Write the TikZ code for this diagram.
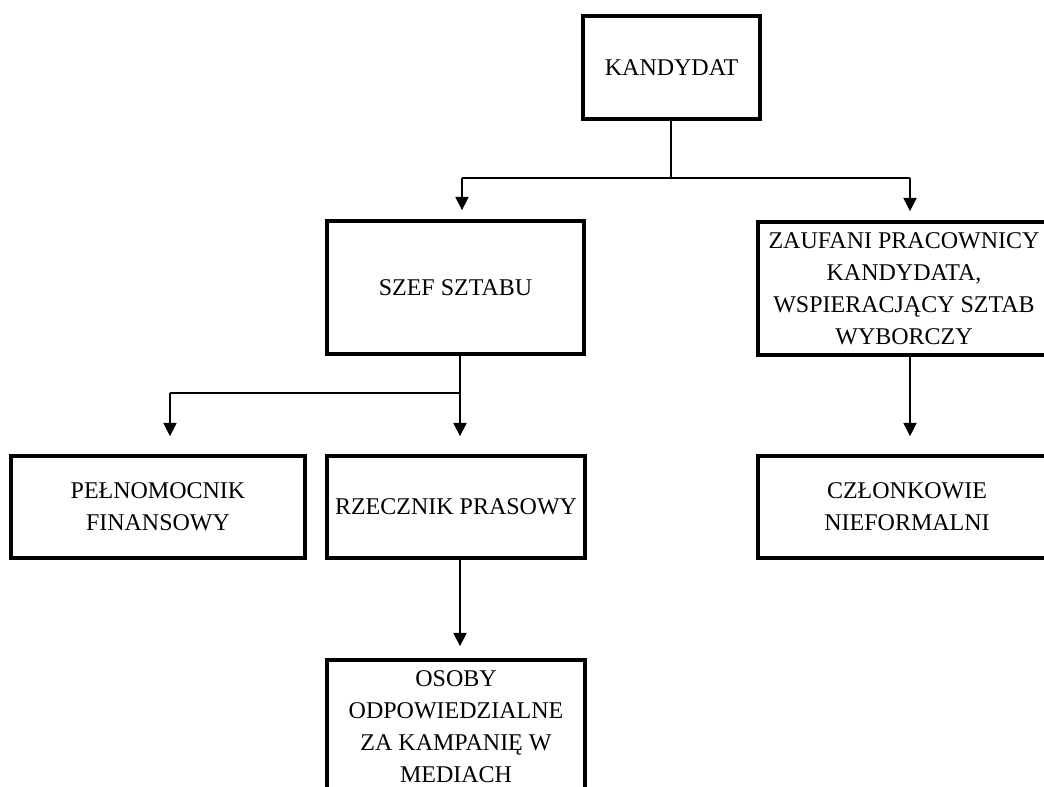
\documentclass[tikz,border=0pt]{standalone}
\usepackage{fontspec}
\setmainfont{Liberation Serif}
\usetikzlibrary{arrows.meta}
\begin{document}
\begin{tikzpicture}[x=0.75pt,y=-0.75pt,
  box/.style={draw, line width=2.8pt, rectangle, align=center, inner sep=0pt,
    font=\fontsize{18}{24}\selectfont},
  conn/.style={line width=0.9pt},
  arr/.style={conn, -{Triangle[width=10pt,length=10pt]}}]
\useasboundingbox (0,0) rectangle (1044,787);
\clip (0,0) rectangle (1044,787);
\fill[white] (0,0) rectangle (1044,787);

\node[box, minimum width=132.75pt, minimum height=77.25pt] (kand) at (671.5,67.5) {KANDYDAT};
\node[box, minimum width=192.75pt, minimum height=99.75pt] (szef) at (455.5,287.5) {SZEF SZTABU};
\node[box, minimum width=219pt, minimum height=99.75pt] (zauf) at (904,288.5)
  {ZAUFANI PRACOWNICY\\KANDYDATA,\\WSPIERACJĄCY SZTAB\\WYBORCZY};
\node[box, minimum width=220.5pt, minimum height=76.5pt] (pel) at (158,507) {PEŁNOMOCNIK\\FINANSOWY};
\node[box, minimum width=193.5pt, minimum height=76.5pt] (rzecz) at (456,507) {RZECZNIK PRASOWY};
\node[box, minimum width=223.5pt, minimum height=76.5pt] (czl) at (907,507) {CZŁONKOWIE\\NIEFORMALNI};
\node[box, minimum width=193.5pt, minimum height=100.5pt] (osoby) at (456,727)
  {OSOBY\\ODPOWIEDZIALNE\\ZA KAMPANIĘ W\\MEDIACH};

\coordinate (j1) at (671,178);
\coordinate (jL) at (462,178);
\coordinate (jR) at (910,178);
\coordinate (j2) at (460,393);
\coordinate (jP) at (170,393);

\draw[conn] (kand.south -| j1) -- (j1);
\draw[conn] (jL) -- (jR);
\draw[arr, shorten >=6.75pt] (jL) -- (jL |- szef.north);
\draw[arr, shorten >=6.75pt] (jR) -- (jR |- zauf.north);

\draw[conn] (j2 |- szef.south) -- (j2);
\draw[conn] (j2) -- (jP);
\draw[arr, shorten >=13.5pt] (jP) -- (jP |- pel.north);
\draw[arr, shorten >=13.5pt] (j2) -- (j2 |- rzecz.north);
\draw[arr, shorten >=9pt] (j2 |- rzecz.south) -- (j2 |- osoby.north);
\draw[arr, shorten >=13.5pt] (jR |- zauf.south) -- (jR |- czl.north);
\end{tikzpicture}
\end{document}
